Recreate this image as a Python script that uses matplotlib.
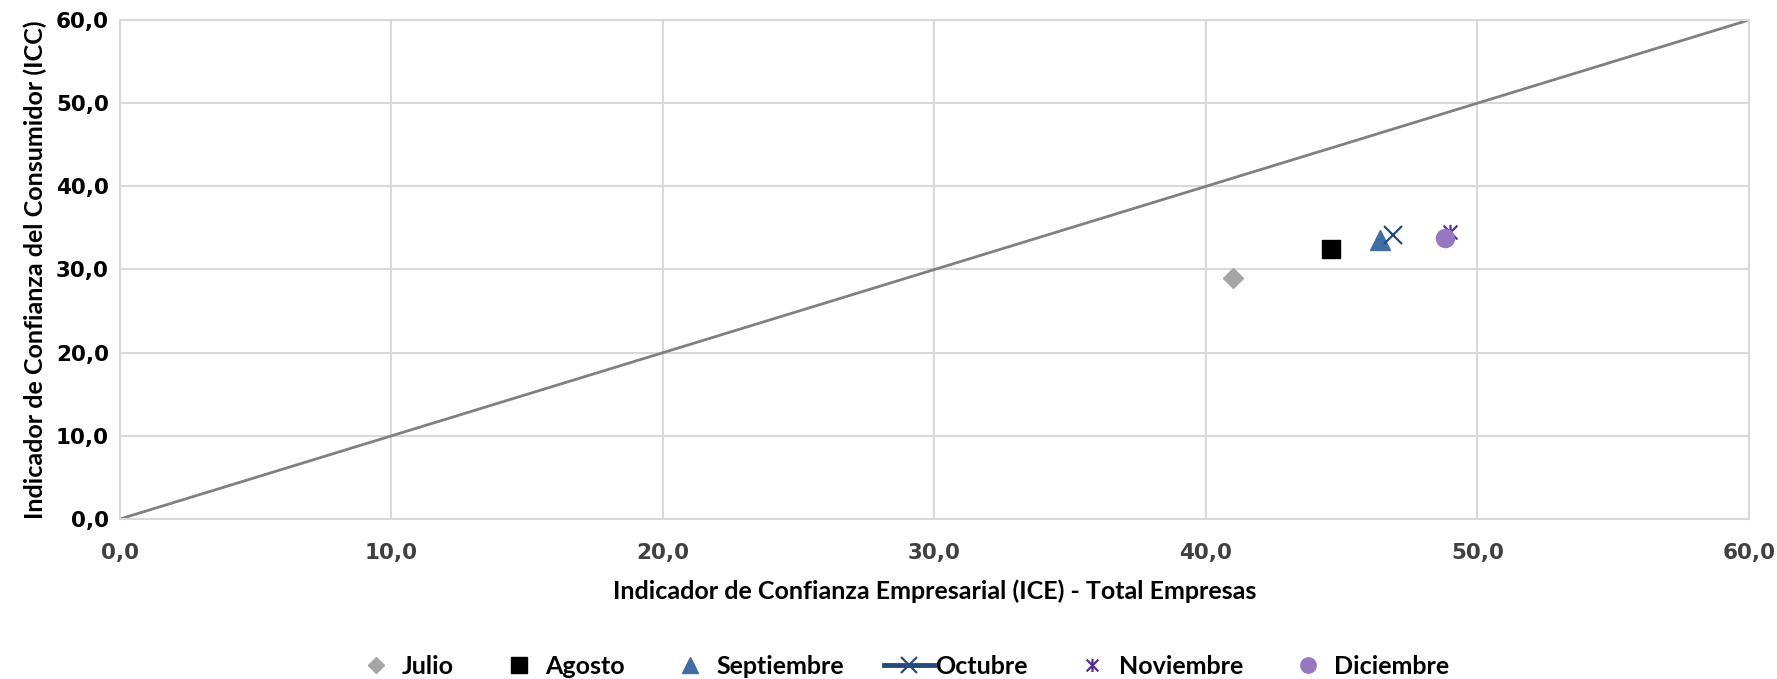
import matplotlib
matplotlib.use("Agg")
import matplotlib.pyplot as plt
from matplotlib.path import Path
from matplotlib.ticker import FuncFormatter, MultipleLocator

# data (ICE, ICC) per month
months = ["Julio", "Agosto", "Septiembre", "Octubre", "Noviembre", "Diciembre"]
ice = [41.0, 44.6, 46.4, 46.9, 49.0, 48.8]
icc = [29.0, 32.5, 33.6, 34.1, 34.5, 33.8]
ref_line = [0.0, 60.0]

star = Path([(-1, -1), (1, 1), (-1, 1), (1, -1), (0, -1.1), (0, 1.1)],
            [Path.MOVETO, Path.LINETO, Path.MOVETO, Path.LINETO, Path.MOVETO, Path.LINETO])

styles = {
    "Julio": dict(marker="D", color="#A5A5A5", ms=10, ls="none"),
    "Agosto": dict(marker="s", color="#000000", ms=13, ls="none"),
    "Septiembre": dict(marker="^", color="#3F6EA6", ms=14, ls="none"),
    "Octubre": dict(marker="x", color="#254B7C", ms=13, mew=1.6, ls="-", lw=3.5),
    "Noviembre": dict(marker=star, color="#5A2D91", ms=11, mew=1.6, mfc="none", ls="none"),
    "Diciembre": dict(marker="o", color="#9677C2", ms=13, ls="none"),
}

fig = plt.figure(figsize=(17.77, 6.79), dpi=100)
ax = fig.add_axes([120 / 1777, 1 - 519 / 679, (1749 - 120) / 1777, (519 - 20) / 679])

ax.plot(ref_line, ref_line, color="#808080", lw=2, zorder=2)
for m, x, y in zip(months, ice, icc):
    ax.plot([x], [y], label=m, zorder=3, **styles[m])

ax.set_xlim(0, 60)
ax.set_ylim(0, 60)
ax.xaxis.set_major_locator(MultipleLocator(10))
ax.yaxis.set_major_locator(MultipleLocator(10))
fmt = FuncFormatter(lambda v, p: f"{v:.1f}".replace(".", ","))
ax.xaxis.set_major_formatter(fmt)
ax.yaxis.set_major_formatter(fmt)
ax.grid(True, color="#D9D9D9", lw=1.5)
ax.set_axisbelow(True)
for s in ax.spines.values():
    s.set_color("#D9D9D9")
    s.set_linewidth(1.5)
ax.tick_params(length=0)
for t in ax.get_xticklabels():
    t.set_fontsize(15.5)
    t.set_fontweight("bold")
    t.set_color("#404040")
for t in ax.get_yticklabels():
    t.set_fontsize(15.5)
    t.set_fontweight("bold")
    t.set_color("#000000")
ax.tick_params(axis="x", pad=17)
ax.tick_params(axis="y", pad=8)

ax.set_xlabel("Indicador de Confianza Empresarial (ICE) - Total Empresas",
              family="Lato", fontweight="bold", fontsize=18, labelpad=12)
ax.set_ylabel("Indicador de Confianza del Consumidor (ICC)",
              family="Lato", fontweight="bold", fontsize=18, labelpad=6)

fig.legend(loc="center", bbox_to_anchor=(900 / 1777, 1 - 666 / 679), ncol=6,
           frameon=False, prop=dict(family="Lato", weight="bold", size=18),
           columnspacing=1.6, handlelength=2.0, handletextpad=0.05, markerscale=0.85)

fig.savefig("out.png", dpi=100)
